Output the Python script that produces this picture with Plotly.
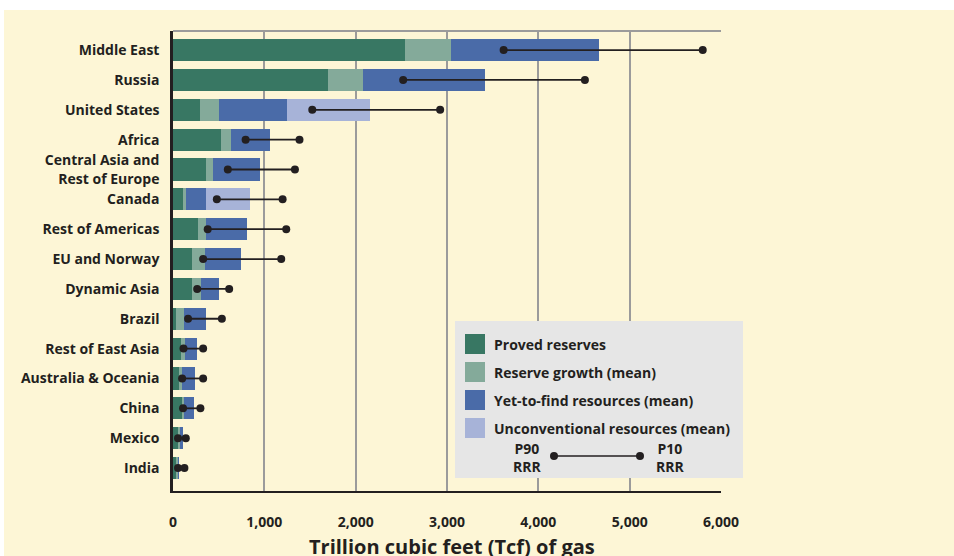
import plotly.graph_objects as go

regions = ['Middle East', 'Russia', 'United States', 'Africa',
           'Central Asia and<br>Rest of Europe', 'Canada', 'Rest of Americas',
           'EU and Norway', 'Dynamic Asia', 'Brazil', 'Rest of East Asia',
           'Australia & Oceania', 'China', 'Mexico', 'India']

proved = [2540, 1700, 295, 525, 360, 120, 275, 210, 210, 35, 90, 65, 100, 55, 40]
growth = [505, 380, 210, 110, 80, 20, 85, 140, 100, 85, 40, 35, 20, 20, 15]
yet_to_find = [1620, 1335, 745, 425, 515, 220, 450, 395, 195, 240, 130, 140, 110, 35, 10]
unconventional = [0, 0, 910, 0, 0, 480, 0, 0, 0, 0, 0, 0, 0, 0, 0]

p90 = [3620, 2520, 1525, 795, 600, 480, 380, 330, 265, 165, 115, 100, 110, 55, 55]
p10 = [5800, 4510, 2925, 1385, 1335, 1200, 1240, 1185, 615, 535, 330, 330, 300, 140, 125]

xticks = [0, 1000, 2000, 3000, 4000, 5000, 6000]

series = [
    ('Proved reserves', proved, '#387763'),
    ('Reserve growth (mean)', growth, '#84AA9A'),
    ('Yet-to-find resources (mean)', yet_to_find, '#4A6BA8'),
    ('Unconventional resources (mean)', unconventional, '#A7B3D8'),
]

ink = '#231F20'
cream = '#FDF6D6'
font = 'Open Sans'

fig = go.Figure()

for name, vals, col in series:
    fig.add_trace(go.Bar(
        y=regions, x=vals, orientation='h', name=name,
        marker=dict(color=col, line=dict(width=0)),
        width=0.74, showlegend=False,
    ))

# P90 - P10 range lines
rx, ry = [], []
for r, a, b in zip(regions, p90, p10):
    rx += [a, b, None]
    ry += [r, r, None]
fig.add_trace(go.Scatter(
    x=rx, y=ry, mode='lines+markers',
    line=dict(color=ink, width=1.8),
    marker=dict(color=ink, size=8),
    showlegend=False, connectgaps=False,
))

# map pixel positions to paper coords
def px(x):
    return (x - 173) / 548

def py(y):
    return (491 - y) / 460

shapes = [
    # cream panel
    dict(type='rect', xref='paper', yref='paper', x0=px(4), x1=px(960),
         y0=py(560), y1=py(10), fillcolor=cream, line=dict(width=0), layer='below'),
    # top border of plot
    dict(type='line', xref='paper', yref='paper', x0=0, x1=1, y0=1, y1=1,
         line=dict(color='#9B9B9B', width=2)),
    # legend box
    dict(type='rect', xref='paper', yref='paper', x0=px(455), x1=px(743),
         y0=py(478), y1=py(321), fillcolor='#E6E6E6', line=dict(width=0)),
]
annotations = []
for i, (name, vals, col) in enumerate(series):
    yc = 344 + i * 28
    shapes.append(dict(type='rect', xref='paper', yref='paper',
                       x0=px(465), x1=px(485), y0=py(yc + 10), y1=py(yc - 10),
                       fillcolor=col, line=dict(width=0)))
    annotations.append(dict(xref='paper', yref='paper', x=px(492), y=py(yc),
                            text=name, showarrow=False, xanchor='left', yanchor='middle',
                            font=dict(family=font, size=14, color=ink, weight='bold')))

shapes.append(dict(type='line', xref='paper', yref='paper', x0=px(554), x1=px(640),
                   y0=py(456), y1=py(456), line=dict(color=ink, width=1.5)))
for xc in (554, 640):
    shapes.append(dict(type='circle', xref='paper', yref='paper',
                       x0=px(xc - 4), x1=px(xc + 4), y0=py(460), y1=py(452),
                       fillcolor=ink, line=dict(width=0)))
for xc, t in ((527, 'P90<br>RRR'), (670, 'P10<br>RRR')):
    annotations.append(dict(xref='paper', yref='paper', x=px(xc), y=py(457),
                            text=t, showarrow=False, xanchor='center', yanchor='middle',
                            font=dict(family=font, size=14, color=ink, weight='bold')))

# x axis title, sitting at the bottom edge like the original
annotations.append(dict(xref='paper', yref='paper', x=px(452), y=py(531),
                        text='Trillion cubic feet (Tcf) of gas', showarrow=False,
                        xanchor='center', yanchor='top',
                        font=dict(family=font, size=20, color=ink, weight='bold')))

fig.update_layout(
    width=954, height=556,
    margin=dict(l=173, r=233, t=31, b=65),
    barmode='stack', bargap=0.26,
    paper_bgcolor='white', plot_bgcolor=cream,
    font=dict(family=font, size=14, color=ink, weight='bold'),
    shapes=shapes, annotations=annotations,
    xaxis=dict(
        range=[0, 6000], tickvals=xticks, tickformat=',',
        showgrid=True, gridcolor='#9B9B9B', gridwidth=2,
        showline=True, linecolor=ink, linewidth=2,
        ticks='outside', ticklen=17, tickcolor='rgba(0,0,0,0)',
        tickfont=dict(family=font, size=14, color=ink, weight='bold'),
        zeroline=False, automargin=False,
    ),
    yaxis=dict(
        range=[14.77, -0.64],
        showgrid=False, showline=True, linecolor=ink, linewidth=2.5,
        ticks='outside', ticklen=8, tickcolor='rgba(0,0,0,0)',
        tickfont=dict(family=font, size=14, color=ink, weight='bold'),
        zeroline=False, automargin=False,
    ),
)

fig.write_html('out.html', config={'displayModeBar': False},
               post_script="document.body.style.margin='0';document.body.style.overflow='hidden';")
